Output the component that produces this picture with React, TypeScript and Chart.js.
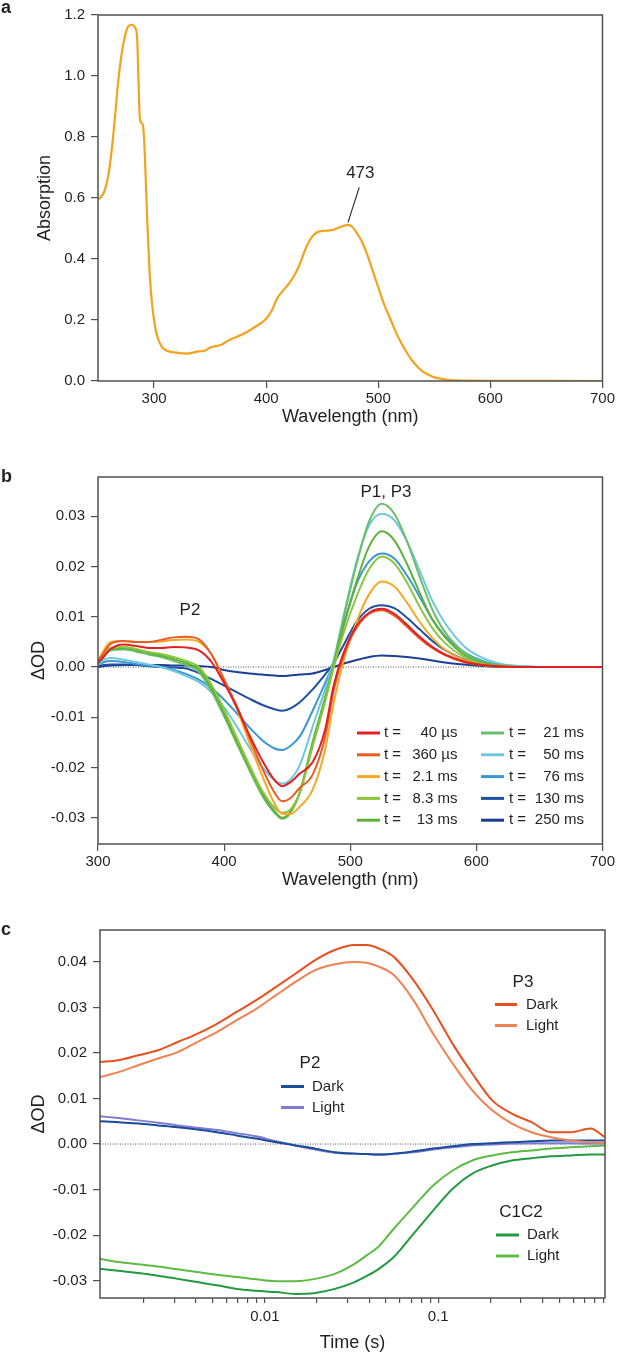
import React, { useEffect, useRef } from 'react';
import Chart from 'chart.js/auto';

const FONT = '"Liberation Sans", Arial, Helvetica, sans-serif';
const TXT = '#231f20';
const AXIS = '#505050';

// ---------- Panel a: absorption spectrum ----------
const wlA = [250, 253, 256, 259, 262, 265, 268, 271, 274, 277, 280, 283, 285, 286, 287, 288, 290, 291, 292, 294, 296, 298, 300, 303, 307, 312, 320, 330, 340, 345, 350, 360, 365, 370, 380, 390, 400, 405, 410, 415, 420, 425, 430, 435, 440, 445, 450, 455, 460, 465, 470, 473, 477, 480, 485, 490, 495, 500, 505, 510, 515, 520, 525, 530, 535, 540, 545, 550, 560, 570, 580, 600, 650, 700];
const absA = [0.595, 0.605, 0.625, 0.67, 0.75, 0.86, 0.98, 1.07, 1.13, 1.163, 1.168, 1.16, 1.12, 1.0, 0.88, 0.85, 0.84, 0.8, 0.72, 0.52, 0.36, 0.26, 0.2, 0.145, 0.112, 0.098, 0.093, 0.09, 0.097, 0.099, 0.11, 0.119, 0.13, 0.139, 0.155, 0.177, 0.204, 0.231, 0.272, 0.296, 0.318, 0.345, 0.383, 0.432, 0.468, 0.487, 0.492, 0.493, 0.496, 0.503, 0.51, 0.512, 0.505, 0.49, 0.46, 0.416, 0.362, 0.307, 0.253, 0.21, 0.166, 0.128, 0.096, 0.068, 0.047, 0.03, 0.02, 0.012, 0.005, 0.002, 0.001, 0.0005, 0.0002, 0.0];
const peakLabelA = '473';
const peakPointA = [473, 0.52];
const peakLabelPosA = [484, 0.68];
const peakLineEndA = [483, 0.635];
const yTicksA = [0, 0.2, 0.4, 0.6, 0.8, 1.0, 1.2];

// ---------- Panel b: transient spectra ----------
const wlB = [300, 305, 310, 320, 330, 340, 350, 360, 370, 380, 390, 400, 410, 420, 430, 440, 446, 452, 460, 470, 480, 487, 495, 505, 515, 525, 535, 545, 555, 565, 575, 590, 605, 620, 640, 660, 680, 700];
const timeLabelsB = ['40 µs', '360 µs', '2.1 ms', '8.3 ms', '13 ms', '21 ms', '50 ms', '76 ms', '130 ms', '250 ms'];
const colorsB = ['#E31E24', '#EA5B24', '#F7A823', '#8CC63F', '#5FB03B', '#6BBE6A', '#6FC8DC', '#3A97D4', '#1F4FA0', '#1C3E94'];
const s40us = [0.0008, 0.0022, 0.0036, 0.0045, 0.0042, 0.0038, 0.0038, 0.004, 0.0039, 0.0033, 0.001, -0.0032, -0.008, -0.0135, -0.0185, -0.0225, -0.0237, -0.023, -0.0212, -0.019, -0.0125, -0.0035, 0.003, 0.0082, 0.0108, 0.0116, 0.0106, 0.0084, 0.006, 0.004, 0.0025, 0.0011, 0.0004, 0.0001, 0.0, 0.0, 0.0, 0.0];
const s360us = [0.001, 0.003, 0.0046, 0.0052, 0.005, 0.005, 0.0054, 0.0059, 0.006, 0.0055, 0.0025, -0.0025, -0.0078, -0.014, -0.02, -0.025, -0.0267, -0.0262, -0.024, -0.0215, -0.014, -0.0045, 0.0025, 0.0078, 0.0106, 0.0113, 0.0102, 0.008, 0.0057, 0.0038, 0.0024, 0.001, 0.0004, 0.0001, 0.0, 0.0, 0.0, 0.0];
const s2_1ms = [0.0012, 0.0035, 0.005, 0.0052, 0.005, 0.005, 0.0051, 0.0054, 0.0055, 0.005, 0.0025, -0.0025, -0.0082, -0.015, -0.0215, -0.0272, -0.0292, -0.0293, -0.0278, -0.0245, -0.0165, -0.007, 0.0015, 0.009, 0.0145, 0.017, 0.016, 0.0128, 0.009, 0.0058, 0.0035, 0.0014, 0.0004, 0.0001, 0.0, 0.0, 0.0, 0.0];
const s8_3ms = [0.0008, 0.0025, 0.0038, 0.004, 0.0036, 0.003, 0.0026, 0.002, 0.0012, 0.0, -0.0035, -0.0085, -0.014, -0.0195, -0.0245, -0.028, -0.029, -0.0285, -0.025, -0.016, -0.007, 0.0, 0.007, 0.014, 0.0195, 0.022, 0.0206, 0.0168, 0.012, 0.0078, 0.0048, 0.002, 0.0006, 0.0002, 0.0, 0.0, 0.0, 0.0];
const s13ms = [0.0008, 0.0024, 0.0036, 0.0038, 0.0034, 0.0028, 0.0023, 0.0016, 0.0008, -0.0005, -0.0042, -0.0092, -0.0148, -0.02, -0.025, -0.0287, -0.03, -0.029, -0.025, -0.0155, -0.0065, 0.0005, 0.0085, 0.017, 0.024, 0.027, 0.0252, 0.0205, 0.0148, 0.0095, 0.006, 0.0025, 0.0008, 0.0002, 0.0, 0.0, 0.0, 0.0];
const s21ms = [0.0006, 0.0022, 0.0033, 0.0035, 0.0031, 0.0025, 0.002, 0.0012, 0.0004, -0.001, -0.0048, -0.0098, -0.0152, -0.0205, -0.0255, -0.029, -0.0302, -0.0292, -0.0248, -0.015, -0.006, 0.001, 0.01, 0.0205, 0.029, 0.0325, 0.0305, 0.025, 0.018, 0.0115, 0.007, 0.003, 0.001, 0.0003, 0.0, 0.0, 0.0, 0.0];
const s50ms = [0.0005, 0.0015, 0.0018, 0.0015, 0.001, 0.0005, 0.0, -0.0008, -0.0018, -0.003, -0.005, -0.008, -0.0118, -0.016, -0.0198, -0.0225, -0.0232, -0.0225, -0.0195, -0.012, -0.0045, 0.0015, 0.0105, 0.021, 0.0282, 0.0305, 0.0292, 0.025, 0.0192, 0.0132, 0.0088, 0.0042, 0.0018, 0.0006, 0.0001, 0.0, 0.0, 0.0];
const s76ms = [0.0004, 0.001, 0.0012, 0.001, 0.0006, 0.0003, 0.0, -0.0006, -0.0014, -0.0025, -0.0042, -0.0065, -0.0092, -0.012, -0.0145, -0.0162, -0.0165, -0.0158, -0.0138, -0.0088, -0.0032, 0.001, 0.0085, 0.0165, 0.021, 0.0226, 0.0216, 0.0182, 0.014, 0.0095, 0.0062, 0.003, 0.0012, 0.0004, 0.0001, 0.0, 0.0, 0.0];
const s130ms = [0.0002, 0.0004, 0.0005, 0.0005, 0.0004, 0.0002, 0.0, -0.0001, -0.0003, -0.0012, -0.0024, -0.0037, -0.005, -0.0063, -0.0075, -0.0084, -0.0087, -0.0083, -0.007, -0.0045, -0.0015, 0.0008, 0.0045, 0.009, 0.0116, 0.0123, 0.0117, 0.0098, 0.0075, 0.0052, 0.0034, 0.0015, 0.0005, 0.0002, 0.0, 0.0, 0.0, 0.0];
const s250ms = [0.0, 0.0002, 0.0003, 0.0004, 0.0004, 0.0004, 0.0004, 0.0003, 0.0003, 0.0002, 0.0, -0.0006, -0.001, -0.0013, -0.0015, -0.0017, -0.0018, -0.0017, -0.0015, -0.0013, -0.0006, 0.0, 0.0007, 0.0014, 0.002, 0.0023, 0.0022, 0.002, 0.0017, 0.0013, 0.0009, 0.0005, 0.0002, 0.0, 0.0, 0.0, 0.0, 0.0];
const seriesB = [s40us, s360us, s2_1ms, s8_3ms, s13ms, s21ms, s50ms, s76ms, s130ms, s250ms];

// ---------- Panel c: kinetics ----------
const tC = [0.00112, 0.00143, 0.00186, 0.00242, 0.00314, 0.00407, 0.00529, 0.00687, 0.00891, 0.0116, 0.015, 0.0195, 0.0253, 0.0329, 0.0385, 0.045, 0.0554, 0.0719, 0.0934, 0.121, 0.157, 0.2045, 0.2655, 0.345, 0.4475, 0.581, 0.754, 0.915];
const p3Dark = [0.018, 0.0184, 0.0195, 0.0206, 0.0224, 0.0242, 0.0264, 0.029, 0.0316, 0.0345, 0.0374, 0.0404, 0.0426, 0.0437, 0.0437, 0.043, 0.0411, 0.036, 0.0294, 0.022, 0.0155, 0.0096, 0.0067, 0.0048, 0.0026, 0.0026, 0.0034, 0.0015];
const p3Light = [0.0147, 0.0158, 0.0173, 0.0188, 0.0202, 0.0224, 0.0246, 0.0272, 0.0297, 0.0327, 0.0356, 0.0382, 0.0395, 0.04, 0.0398, 0.039, 0.0371, 0.0316, 0.0242, 0.0177, 0.0118, 0.0074, 0.0045, 0.0026, 0.0015, 0.0008, 0.0004, 0.0002];
const p2Dark = [0.005, 0.0048, 0.0045, 0.0041, 0.0037, 0.0032, 0.0026, 0.0019, 0.0012, 0.0004, -0.0003, -0.001, -0.0018, -0.0021, -0.0022, -0.0023, -0.0021, -0.0016, -0.001, -0.0005, 0.0, 0.0002, 0.0004, 0.0006, 0.0008, 0.0008, 0.0008, 0.0008];
const p2Light = [0.0061, 0.0057, 0.0052, 0.0047, 0.0041, 0.0036, 0.0031, 0.0024, 0.0017, 0.0006, -0.0003, -0.0012, -0.0019, -0.0021, -0.0022, -0.0023, -0.0021, -0.0018, -0.0012, -0.0007, -0.0003, -0.0001, 0.0001, 0.0002, 0.0002, 0.0002, 0.0001, 0.0001];
const c1c2Dark = [-0.0274, -0.0278, -0.0283, -0.0289, -0.0296, -0.0303, -0.031, -0.0318, -0.0322, -0.0325, -0.0329, -0.0327, -0.0318, -0.0303, -0.029, -0.0275, -0.0248, -0.0197, -0.0146, -0.0098, -0.0065, -0.0047, -0.0036, -0.0031, -0.0027, -0.0025, -0.0023, -0.0023];
const c1c2Light = [-0.0252, -0.0259, -0.0264, -0.0269, -0.0275, -0.0281, -0.0287, -0.0292, -0.0297, -0.0301, -0.0301, -0.0296, -0.0285, -0.0263, -0.0245, -0.0226, -0.0186, -0.0138, -0.0091, -0.0058, -0.0036, -0.0025, -0.0018, -0.0014, -0.001, -0.0007, -0.0005, -0.0003];
const groupNamesC = ['P3', 'P2', 'C1C2'];
const stateNamesC = ['Dark', 'Light'];
const colorsC = ['#E8501F', '#F28152', '#1B4B9B', '#7E7CD0', '#229A3F', '#5DBB45'];
const logTicksC = [0.002, 0.003, 0.004, 0.005, 0.006, 0.007, 0.008, 0.009, 0.01, 0.02, 0.03, 0.04, 0.05, 0.06, 0.07, 0.08, 0.09, 0.1, 0.2, 0.3, 0.4, 0.5, 0.6, 0.7, 0.8, 0.9];
const logLabelsC = [0.01, 0.1];

// ---------- helpers ----------
function text(ctx: CanvasRenderingContext2D, s: string, x: number, y: number, size: number, opts: any = {}) {
  ctx.save();
  ctx.font = `${opts.bold ? 'bold ' : ''}${size}px ${FONT}`;
  ctx.fillStyle = TXT;
  ctx.textAlign = opts.align || 'center';
  ctx.textBaseline = opts.baseline || 'middle';
  ctx.fillText(s, x, y);
  ctx.restore();
}

function hline(ctx: CanvasRenderingContext2D, x1: number, x2: number, y: number, color: string, w = 3) {
  ctx.save();
  ctx.strokeStyle = color;
  ctx.lineWidth = w;
  ctx.beginPath();
  ctx.moveTo(x1, y);
  ctx.lineTo(x2, y);
  ctx.stroke();
  ctx.restore();
}

function framePlugin(zero: boolean, extra: (chart: any) => void) {
  return {
    id: 'frameExtra',
    beforeDatasetsDraw(chart: any) {
      if (!zero) return;
      const { ctx, chartArea: a } = chart;
      const y = chart.scales.y.getPixelForValue(0);
      ctx.save();
      ctx.strokeStyle = '#222';
      ctx.lineWidth = 0.8;
      ctx.setLineDash([1, 1.5]);
      ctx.beginPath();
      ctx.moveTo(a.left, y);
      ctx.lineTo(a.right, y);
      ctx.stroke();
      ctx.restore();
    },
    afterDraw(chart: any) {
      const { ctx, chartArea: a } = chart;
      ctx.save();
      ctx.strokeStyle = AXIS;
      ctx.lineWidth = 1.5;
      ctx.strokeRect(a.left, a.top, a.right - a.left, a.bottom - a.top);
      ctx.restore();
      extra(chart);
    },
  };
}

const tickFont = { family: FONT, size: 15 };
const titleFont = { family: FONT, size: 18, lineHeight: 1 };
const gridBase = { drawOnChartArea: false, drawTicks: true, tickLength: 7, color: AXIS, lineWidth: 1.2 };

function lineDs(xs: number[], ys: number[], color: string, width = 2) {
  return {
    data: xs.map((x, i) => ({ x, y: ys[i] })),
    borderColor: color,
    borderWidth: width,
    pointRadius: 0,
    cubicInterpolationMode: 'monotone' as const,
    fill: false,
  };
}

function baseOpts(pad: any, yWidth: number, xHeight: number) {
  return {
    animation: false as const,
    responsive: false,
    maintainAspectRatio: false,
    layout: { padding: pad },
    plugins: { legend: { display: false }, tooltip: { enabled: false }, title: { display: false } },
    events: [] as any[],
    _yWidth: yWidth,
    _xHeight: xHeight,
  };
}

function configA(): any {
  const o: any = baseOpts({ top: 13, right: 14, left: 0, bottom: 0 }, 98, 49);
  o.scales = {
    x: {
      type: 'linear', min: 250, max: 700,
      afterFit: (s: any) => { s.height = 49; },
      ticks: { stepSize: 100, includeBounds: false, padding: 2, font: tickFont, color: TXT, maxRotation: 0 },
      grid: gridBase, border: { display: false },
      title: { display: true, text: 'Wavelength (nm)', font: titleFont, color: TXT, padding: { top: 0, bottom: 4 } },
    },
    y: {
      type: 'linear', min: 0, max: 1.2,
      afterFit: (s: any) => { s.width = 98; },
      afterBuildTicks: (s: any) => { s.ticks = yTicksA.map((v) => ({ value: v })); },
      ticks: { padding: 6, font: tickFont, color: TXT, callback: (v: any) => Number(v).toFixed(1) },
      grid: gridBase, border: { display: false },
      title: { display: true, text: 'Absorption', font: titleFont, color: TXT, padding: { top: 36, bottom: 0 } },
    },
  };
  return {
    type: 'line',
    data: { datasets: [lineDs(wlA, absA, '#F3A21D', 2.2)] },
    options: o,
    plugins: [framePlugin(false, (chart: any) => {
      const { ctx, scales } = chart;
      const x1 = scales.x.getPixelForValue(peakPointA[0]);
      const y1 = scales.y.getPixelForValue(peakPointA[1]);
      const x2 = scales.x.getPixelForValue(peakLineEndA[0]);
      const y2 = scales.y.getPixelForValue(peakLineEndA[1]);
      ctx.save();
      ctx.strokeStyle = '#222';
      ctx.lineWidth = 1.1;
      ctx.beginPath(); ctx.moveTo(x1, y1); ctx.lineTo(x2, y2); ctx.stroke();
      ctx.restore();
      text(ctx, peakLabelA, scales.x.getPixelForValue(peakLabelPosA[0]), scales.y.getPixelForValue(peakLabelPosA[1]), 17);
      text(ctx, 'a', 1, 13, 18, { bold: true, align: 'left', baseline: 'alphabetic' });
    })],
  };
}

function configB(): any {
  const o: any = baseOpts({ top: 37, right: 14, left: 0, bottom: 0 }, 98, 56);
  o.scales = {
    x: {
      type: 'linear', min: 300, max: 700,
      afterFit: (s: any) => { s.height = 56; },
      ticks: { stepSize: 100, includeBounds: false, padding: 2, font: tickFont, color: TXT, maxRotation: 0 },
      grid: gridBase, border: { display: false },
      title: { display: true, text: 'Wavelength (nm)', font: titleFont, color: TXT, padding: { top: 0, bottom: 11 } },
    },
    y: {
      type: 'linear', min: -0.0352, max: 0.0378,
      afterFit: (s: any) => { s.width = 98; },
      ticks: { stepSize: 0.01, includeBounds: false, padding: 6, font: tickFont, color: TXT, callback: (v: any) => Number(v).toFixed(2) },
      grid: gridBase, border: { display: false },
      title: { display: true, text: 'ΔOD', font: titleFont, color: TXT, padding: { top: 30, bottom: 0 } },
    },
  };
  const datasets = seriesB.map((s, i) => lineDs(wlB, s, colorsB[i], 2));
  return {
    type: 'line',
    data: { datasets },
    options: o,
    plugins: [framePlugin(true, (chart: any) => {
      const { ctx } = chart;
      text(ctx, 'P1, P3', 386, 52, 17);
      text(ctx, 'P2', 190, 170, 17);
      const cols = [{ l1: 357, l2: 380, t: 384, v: 457.5 }, { l1: 481, l2: 504, t: 509, v: 584 }];
      timeLabelsB.forEach((lab, i) => {
        const c = cols[i < 5 ? 0 : 1];
        const y = 293 + (i % 5) * 21.8;
        hline(ctx, c.l1, c.l2, y, colorsB[i], 3);
        text(ctx, 't =', c.t, y, 15, { align: 'left' });
        text(ctx, lab, c.v, y, 15, { align: 'right' });
      });
      text(ctx, 'b', 1, 42, 18, { bold: true, align: 'left', baseline: 'alphabetic' });
    })],
  };
}

function configC(): any {
  const o: any = baseOpts({ top: 30, right: 12, left: 0, bottom: 0 }, 100, 57);
  o.scales = {
    x: {
      type: 'logarithmic', min: 0.00112, max: 0.915,
      afterFit: (s: any) => { s.height = 57; },
      afterBuildTicks: (s: any) => { s.ticks = logTicksC.map((v) => ({ value: v })); },
      ticks: {
        autoSkip: false, maxRotation: 0, padding: 5, font: tickFont, color: TXT,
        callback: (v: any) => (logLabelsC.includes(Number(v)) ? String(v) : ''),
      },
      grid: { ...gridBase, tickLength: 5 }, border: { display: false },
      title: { display: true, text: 'Time (s)', font: titleFont, color: TXT, padding: { top: 0, bottom: 3 } },
    },
    y: {
      type: 'linear', min: -0.0338, max: 0.047,
      afterFit: (s: any) => { s.width = 100; },
      ticks: { stepSize: 0.01, includeBounds: false, padding: 6, font: tickFont, color: TXT, callback: (v: any) => Number(v).toFixed(2) },
      grid: gridBase, border: { display: false },
      title: { display: true, text: 'ΔOD', font: titleFont, color: TXT, padding: { top: 30, bottom: 0 } },
    },
  };
  const ys = [p3Dark, p3Light, p2Dark, p2Light, c1c2Dark, c1c2Light];
  const datasets = ys.map((s, i) => lineDs(tC, s, colorsC[i], 2));
  const groups = [
    { cx: 523, ty: 82, l1: 495, l2: 517, tx: 526, y1: 104.5, y2: 125.5 },
    { cx: 310, ty: 163, l1: 281, l2: 304, tx: 312, y1: 186.5, y2: 207.5 },
    { cx: 521, ty: 312, l1: 496, l2: 519, tx: 527, y1: 335, y2: 356 },
  ];
  return {
    type: 'line',
    data: { datasets },
    options: o,
    plugins: [framePlugin(true, (chart: any) => {
      const { ctx } = chart;
      groups.forEach((g, gi) => {
        text(ctx, groupNamesC[gi], g.cx, g.ty, 17);
        hline(ctx, g.l1, g.l2, g.y1, colorsC[gi * 2], 3);
        text(ctx, stateNamesC[0], g.tx, g.y1, 15, { align: 'left' });
        hline(ctx, g.l1, g.l2, g.y2, colorsC[gi * 2 + 1], 3);
        text(ctx, stateNamesC[1], g.tx, g.y2, 15, { align: 'left' });
      });
      text(ctx, 'c', 1, 35, 18, { bold: true, align: 'left', baseline: 'alphabetic' });
    })],
  };
}

function ChartCanvas({ top, height, make }: { top: number; height: number; make: () => any }) {
  const ref = useRef<HTMLCanvasElement | null>(null);
  useEffect(() => {
    const chart = new Chart(ref.current as HTMLCanvasElement, make());
    return () => chart.destroy();
  }, []);
  return (
    <canvas
      ref={ref}
      width={617}
      height={height}
      style={{ position: 'absolute', left: 0, top, width: 617, height }}
    />
  );
}

export default function App() {
  return (
    <div style={{ position: 'relative', width: 617, height: 1355, background: '#fff', overflow: 'hidden' }}>
      <style>{'body{margin:0;background:#fff}'}</style>
      <ChartCanvas top={0} height={430} make={configA} />
      <ChartCanvas top={440} height={460} make={configB} />
      <ChartCanvas top={900} height={455} make={configC} />
    </div>
  );
}
